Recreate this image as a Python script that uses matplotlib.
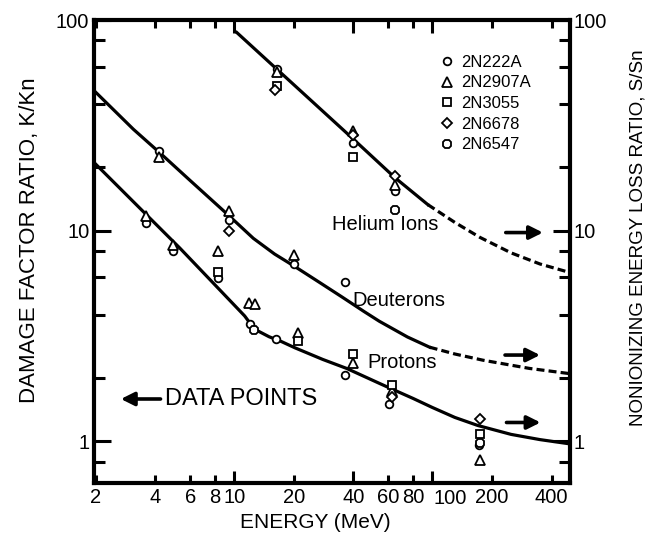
import matplotlib
matplotlib.use("Agg")
import matplotlib.pyplot as plt
from matplotlib.ticker import FixedLocator, FuncFormatter, NullFormatter

plt.rcParams['font.family'] = ['Liberation Sans', 'DejaVu Sans']

# ---- data points (energy MeV, damage factor ratio) ----
q2n222a_x = [3.58, 4.89, 8.25, 12.0, 16.2, 36.2, 60.5, 172,
             4.18, 9.4, 20.1, 36.2,
             16.4, 39.8, 64.6]
q2n222a_y = [10.9, 7.97, 5.95, 3.6, 3.06, 2.06, 1.50, 0.96,
             23.8, 11.2, 6.94, 5.7,
             58.5, 26.2, 15.4]

q2n2907a_x = [3.58, 4.89, 8.25, 11.9, 12.7, 21.0, 39.6, 62.4, 174,
              4.18, 9.4, 20.1,
              16.4, 39.8, 64.6]
q2n2907a_y = [11.8, 8.58, 8.0, 4.53, 4.48, 3.26, 2.36, 1.74, 0.82,
              22.4, 12.4, 7.68,
              56.7, 29.7, 16.4]

q2n3055_x = [8.25, 21.0, 39.6, 62.4, 174, 16.4, 39.8]
q2n3055_y = [6.35, 3.0, 2.6, 1.86, 1.08, 48.6, 22.4]

q2n6678_x = [9.4, 62.4, 174, 16.0, 39.8, 64.6]
q2n6678_y = [10.0, 1.62, 1.28, 46.5, 28.6, 18.1]

q2n6547_x = [12.6, 174, 64.6]
q2n6547_y = [3.38, 0.98, 12.6]

# ---- curves (nonionizing energy loss ratio) ----
helium_x = [10.3, 16.4, 39.8, 64.6, 95]
helium_y = [87.3, 58.5, 27.3, 17.9, 13.3]
helium_dash_x = [95, 130, 174, 250, 350, 490]
helium_dash_y = [13.3, 10.95, 9.3, 7.85, 6.95, 6.35]

deuteron_x = [1.95, 3.1, 4.2, 6.0, 9.4, 12.5, 16, 20.3, 27, 35, 45, 54, 75, 97]
deuteron_y = [46.5, 30.3, 23.5, 17.3, 11.8, 9.2, 7.75, 6.75, 5.68, 4.85,
              4.15, 3.72, 3.13, 2.8]
deuteron_dash_x = [97, 130, 180, 310, 490]
deuteron_dash_y = [2.8, 2.6, 2.43, 2.22, 2.1]

proton_x = [1.95, 5.32, 11.3, 12.0, 12.6, 15, 17.3, 20.3, 28, 37, 54.5,
            62, 80, 100, 130, 170, 250, 350, 490]
proton_y = [21.2, 8.27, 3.94, 3.65, 3.42, 3.14, 2.98, 2.78, 2.45, 2.22, 1.88,
            1.78, 1.6, 1.45, 1.3, 1.19, 1.08, 1.02, 0.975]

x_ticks_long = [10, 40, 100]
x_ticks_short = [2, 4, 6, 8, 20, 60, 80, 200, 400]
y_ticks_major = [1, 10, 100]
y_ticks_minor = [0.8, 2, 4, 6, 8, 20, 40, 60, 80]

fig = plt.figure(figsize=(6.53, 5.47), dpi=100)
ax = fig.add_axes([93.5 / 653, 1 - 482.7 / 547, 476 / 653, 462.7 / 547])
ax.set_xscale('log')
ax.set_yscale('log')
ax.set_xlim(1.95, 493)
ax.set_ylim(0.637, 100)

lw = 2.3
dash = (0, (2.5, 1.3))
ax.plot(helium_x, helium_y, color='k', lw=lw, zorder=2)
ax.plot(helium_dash_x, helium_dash_y, color='k', lw=lw, ls=dash, zorder=2)
ax.plot(deuteron_x, deuteron_y, color='k', lw=lw, zorder=2)
ax.plot(deuteron_dash_x, deuteron_dash_y, color='k', lw=lw, ls=dash, zorder=2)
ax.plot(proton_x, proton_y, color='k', lw=lw, zorder=2)

mk = dict(ls='none', mfc='white', mec='k', mew=1.3, zorder=3)
ax.plot(q2n222a_x, q2n222a_y, marker='o', ms=5.5, label='2N222A', **mk)
ax.plot(q2n2907a_x, q2n2907a_y, marker='^', ms=6.5, label='2N2907A', **mk)
ax.plot(q2n3055_x, q2n3055_y, marker='s', ms=5.5, label='2N3055', **mk)
ax.plot(q2n6678_x, q2n6678_y, marker='D', ms=5, label='2N6678', **mk)
ax.plot(q2n6547_x, q2n6547_y, marker='8', ms=7, label='2N6547', **mk)

ax.legend(loc='upper left', bbox_to_anchor=(0.725, 0.925), frameon=False,
          fontsize=12, handlelength=1, handletextpad=0.35, labelspacing=0.34,
          borderpad=0, borderaxespad=0, numpoints=1)

# spines and ticks
for s in ax.spines.values():
    s.set_linewidth(3)

ax.xaxis.set_major_locator(FixedLocator(x_ticks_long))
ax.xaxis.set_minor_locator(FixedLocator(x_ticks_short))
ax.xaxis.set_major_formatter(FuncFormatter(lambda v, p: '' if v == 100 else f'{v:g}'))
ax.xaxis.set_minor_formatter(FuncFormatter(lambda v, p: f'{v:g}'))
ax.yaxis.set_major_locator(FixedLocator(y_ticks_major))
ax.yaxis.set_minor_locator(FixedLocator(y_ticks_minor))
ax.yaxis.set_major_formatter(FuncFormatter(lambda v, p: f'{v:g}'))
ax.yaxis.set_minor_formatter(NullFormatter())

ax.tick_params(which='both', direction='in', top=True, right=True,
               width=2.2, labelsize=14.5, labelright=True)
ax.tick_params(axis='x', which='major', length=9, pad=4)
ax.tick_params(axis='x', which='minor', length=6, pad=4)
ax.tick_params(axis='y', which='major', length=12, pad=3)
ax.tick_params(axis='y', which='minor', length=8)

ax.annotate('100', xy=(100, 0), xycoords=('data', 'axes fraction'),
            xytext=(13, -4.5), textcoords='offset points',
            ha='center', va='top', fontsize=14.5)

# curve labels
ax.text(57.7, 10.65, 'Helium Ions', fontsize=14.5, ha='center', va='center')
ax.text(67.5, 4.69, 'Deuterons', fontsize=14.5, ha='center', va='center')
ax.text(70.3, 2.38, 'Protons', fontsize=14.5, ha='center', va='center')

arrow = dict(arrowstyle='-|>', lw=2.6, color='k', mutation_scale=20,
             shrinkA=0, shrinkB=0)
ax.annotate('', xy=(362, 9.8), xytext=(235, 9.8), arrowprops=arrow)
ax.annotate('', xy=(350, 2.57), xytext=(233, 2.57), arrowprops=arrow)
ax.annotate('', xy=(352, 1.23), xytext=(237, 1.23), arrowprops=arrow)
ax.annotate('', xy=(2.68, 1.59), xytext=(4.25, 1.59), arrowprops=arrow)
ax.text(4.5, 1.59, 'DATA POINTS', fontsize=17, ha='left', va='center')

fig.text(30 / 653, 1 - 240 / 547, 'DAMAGE FACTOR RATIO, K/Kn', rotation=90,
         fontsize=16, ha='center', va='center')
fig.text(638 / 653, 1 - 238 / 547, 'NONIONIZING ENERGY LOSS RATIO, S/Sn',
         rotation=90, fontsize=13.5, ha='center', va='center')
fig.text(315 / 653, 1 - 523 / 547, 'ENERGY (MeV)', fontsize=15,
         ha='center', va='center')

fig.savefig('out.png', dpi=100)
